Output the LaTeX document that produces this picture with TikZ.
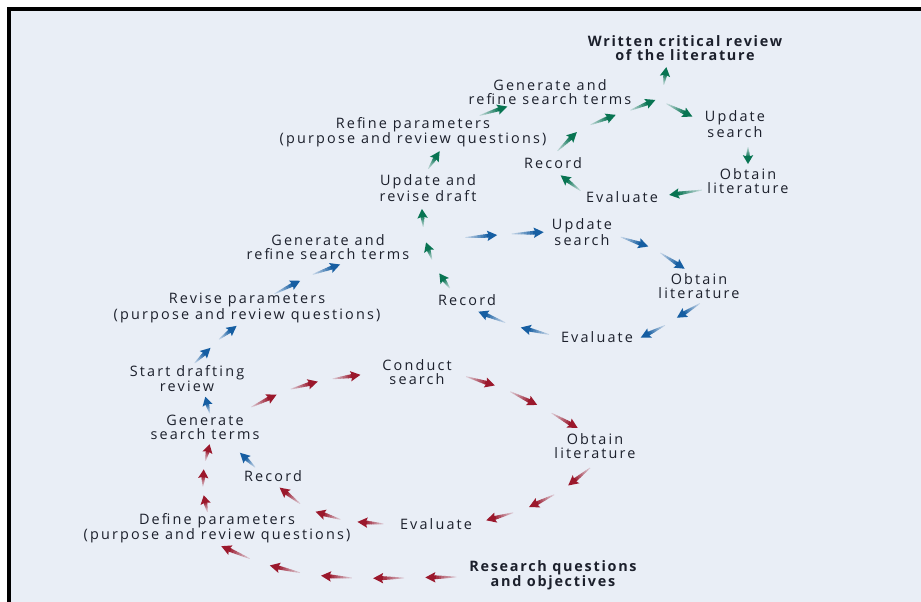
\documentclass[tikz,border=0pt]{standalone}
\usepackage{fontspec}
\setmainfont{Open Sans}[LetterSpace=15, BoldFeatures={LetterSpace=12}]
\usetikzlibrary{decorations.markings}

\definecolor{bgc}{RGB}{233,238,246}
\definecolor{ink}{RGB}{28,32,44}
\definecolor{redc}{RGB}{155,24,44}
\definecolor{bluec}{RGB}{22,94,162}
\definecolor{greenc}{RGB}{8,116,82}

% One tapered arrow drawn along the local x axis, centred on the origin:
% a shaft that fades in from the tail, then a solid head.
\newcommand\flowglyph{%
  \pgfmathsetmacro\gL{\glen}%
  \pgfmathsetmacro\gH{min(10,0.52*\gL)}%
  \pgfmathsetmacro\gW{min(5.2,0.33*\gL)}%
  \pgfmathsetmacro\gT{-0.5*\gL}%
  \pgfmathsetmacro\gN{0.5*\gL-0.75*\gH}%
  \foreach \k in {1,...,8}{%
    \pgfmathsetmacro\xa{\gT+(\gN-\gT)*(\k-1)/8}%
    \pgfmathsetmacro\xb{\gT+(\gN-\gT)*\k/8+0.35}%
    \pgfmathsetmacro\wa{0.4+1.7*(\k-1)/8}%
    \pgfmathsetmacro\wb{0.4+1.7*\k/8}%
    \pgfmathtruncatemacro\pc{10+90*(\k/8)^1.1}%
    \path[fill=\gcol!\pc!bgc] (\xa,-\wa) -- (\xb,-\wb) -- (\xb,\wb) -- (\xa,\wa) -- cycle;
  }%
  \path[fill=\gcol] (0.5*\gL,0) -- (0.5*\gL-\gH,\gW) -- (0.5*\gL-0.82*\gH,0) -- (0.5*\gL-\gH,-\gW) -- cycle;
}

\tikzset{
  lbl/.style={align=center, text=ink, font=\fontsize{14.4}{13.8}\selectfont, inner sep=1pt},
  lblb/.style={lbl, font=\fontsize{14.4}{13.8}\selectfont\bfseries},
  flow/.style 2 args={/utils/exec={\def\gcol{#1}\def\glen{#2}}, postaction={decorate}},
  one/.style={decoration={markings, mark=at position 0.5 with {\flowglyph}}},
  two/.style={decoration={markings,
      mark=at position 0.25 with {\flowglyph},
      mark=at position 0.75 with {\flowglyph}}},
  three/.style={decoration={markings,
      mark=at position 0.1667 with {\flowglyph},
      mark=at position 0.5 with {\flowglyph},
      mark=at position 0.8333 with {\flowglyph}}},
  five/.style={decoration={markings,
      mark=at position 0.1 with {\flowglyph},
      mark=at position 0.3 with {\flowglyph},
      mark=at position 0.5 with {\flowglyph},
      mark=at position 0.7 with {\flowglyph},
      mark=at position 0.9 with {\flowglyph}}},
}

\begin{document}
\begin{tikzpicture}[x=1pt,y=-1pt]
\useasboundingbox (0,0) rectangle (921,602);
\fill[white] (0,0) rectangle (921,602);
\fill[bgc] (9,9) rectangle (921,602);
\draw[line width=4, line join=miter] (9,602) -- (9,9) -- (921,9);

% first cycle
\node[lblb] (rq)   at (553,575) {Research questions\\and objectives};
\node[lbl]  (def)  at (217,528) {Define parameters\\(purpose and review questions)};
\node[lbl]  (gst)  at (205,427) {Generate\\search terms};
\node[lbl]  (rec1) at (273,476) {Record};
\node[lbl]  (eva1) at (436,524) {Evaluate};
\node[lbl]  (con)  at (417,372) {Conduct\\search};
\node[lbl]  (obt1) at (595,446) {Obtain\\literature};

% second cycle
\node[lbl]  (sdr)  at (187,379) {Start drafting\\review};
\node[lbl]  (rev)  at (247,308) {Revise parameters\\(purpose and review questions)};
\node[lbl]  (gen2) at (328,247) {Generate and\\refine search terms};
\node[lbl]  (rec2) at (467,300) {Record};
\node[lbl]  (eva2) at (597,337) {Evaluate};
\node[lbl]  (obt2) at (699,286) {Obtain\\literature};
\node[lbl]  (upd2) at (582,232) {Update\\search};

% third cycle
\node[lbl]  (urd)  at (428,188) {Update and\\revise draft};
\node[lbl]  (ref)  at (413,132) {Refine parameters\\(purpose and review questions)};
\node[lbl]  (gen3) at (550,92)  {Generate and\\refine search terms};
\node[lbl]  (rec3) at (553,163) {Record};
\node[lbl]  (eva3) at (622,197) {Evaluate};
\node[lbl]  (obt3) at (748,181) {Obtain\\literature};
\node[lbl]  (upd3) at (735,124) {Update\\search};
\node[lblb] (wcr)  at (685,48)  {Written critical review\\of the literature};
\coordinate (fork) at (662,96);

% red arrows
\path[flow={redc}{31},five] ([shift={(-86,2)}]rq.center) to[out=180,in=-28] ([shift={(-5,13)}]def.center);
\path[flow={redc}{17},three] ([shift={(-8,-12)}]def.center) to[out=108,in=-107] ([shift={(6,13)}]gst.center);
\path[flow={redc}{28},three] ([shift={(40,-16)}]gst.center) to[out=30,in=187] ([shift={(-49,2)}]con.center);
\path[flow={redc}{30},three] ([shift={(41,3)}]con.center) to[out=-13,in=151] ([shift={(-10,-14)}]obt1.center);
\path[flow={redc}{28},three] ([shift={(1,16)}]obt1.center) to[out=-137,in=13] ([shift={(42,-2)}]eva1.center);
\path[flow={redc}{26},three] ([shift={(-44,0)}]eva1.center) to[out=178,in=-47] ([shift={(1,5)}]rec1.center);

% blue arrows
\path[flow={bluec}{21},one] ([shift={(-14,-5)}]rec1.center) -- ([shift={(31,22)}]gst.center);
\path[flow={bluec}{17},one] ([shift={(6,-9)}]gst.center) -- ([shift={(17,13)}]sdr.center);
\path[flow={bluec}{22},two] ([shift={(3,-12)}]sdr.center) to[out=41,in=-149] ([shift={(-5,15)}]rev.center);
\path[flow={bluec}{29},two] ([shift={(21,-11)}]rev.center) to[out=26,in=195] ([shift={(19,16)}]gen2.center);
\path[flow={bluec}{32},two] ([shift={(130,-9)}]gen2.center) to[out=4,in=182] ([shift={(-31,0)}]upd2.center);
\path[flow={bluec}{29},two] ([shift={(32,4)}]upd2.center) to[out=-13,in=144] ([shift={(-9,-13)}]obt2.center);
\path[flow={bluec}{27},two] ([shift={(7,14)}]obt2.center) to[out=210,in=22] ([shift={(37,3)}]eva2.center);
\path[flow={bluec}{29},two] ([shift={(-40,-1)}]eva2.center) to[out=168,in=-25] ([shift={(4,8)}]rec2.center);

% green arrows
\path[flow={greenc}{18},three] ([shift={(-12,-6)}]rec2.center) to[out=131,in=-90] ([shift={(-6,13)}]urd.center);
\path[flow={greenc}{21},one] ([shift={(-3,-14)}]urd.center) -- ([shift={(30,14)}]ref.center);
\path[flow={greenc}{29},one] ([shift={(59,-14)}]ref.center) -- ([shift={(-35,12)}]gen3.center);
\path[flow={greenc}{27},three] ([shift={(1,-5)}]rec3.center) to[out=58,in=209] (fork);
\path[flow={greenc}{18},one] (fork) -- ([shift={(-17,8)}]wcr.center);
\path[flow={greenc}{29},one] (fork) to[out=-50,in=168] ([shift={(-34,-7)}]upd3.center);
\path[flow={greenc}{17},one] ([shift={(13,19)}]upd3.center) -- ([shift={(0,-13)}]obt3.center);
\path[flow={greenc}{33},one] ([shift={(-39,8)}]obt3.center) -- ([shift={(40,-1)}]eva3.center);
\path[flow={greenc}{25},one] ([shift={(-36,-2)}]eva3.center) -- ([shift={(2,8)}]rec3.center);
\end{tikzpicture}
\end{document}
